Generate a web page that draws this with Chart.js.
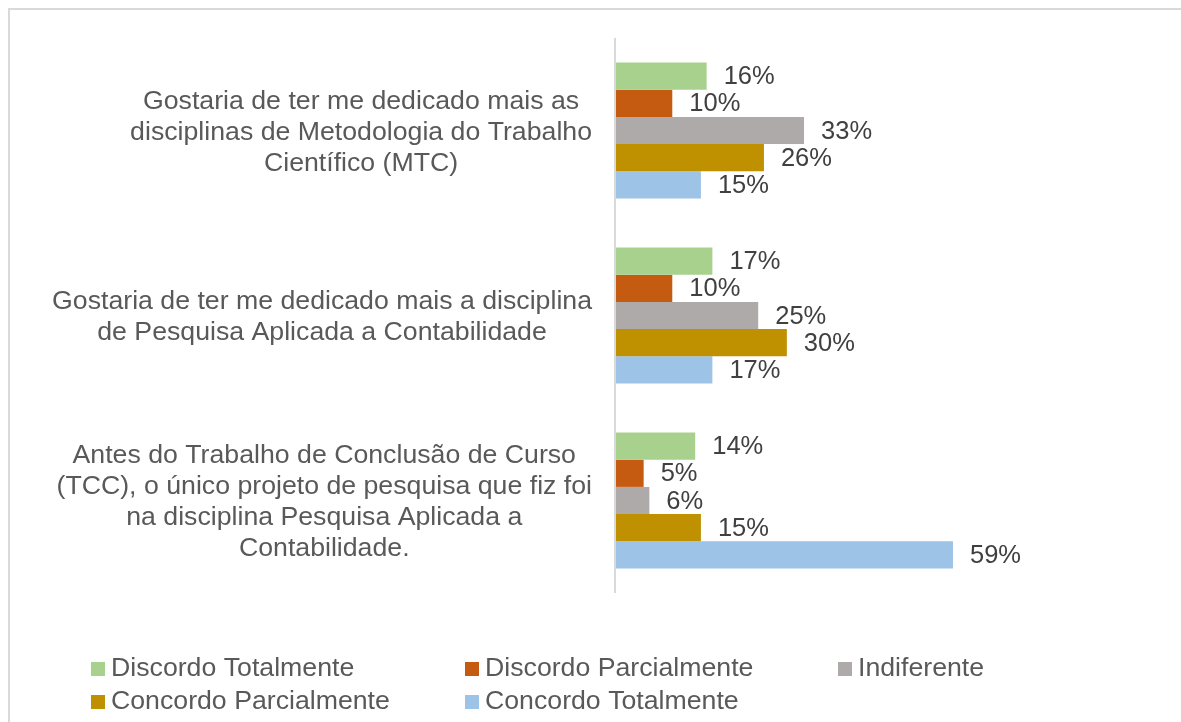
<!DOCTYPE html>
<html>
<head>
<meta charset="utf-8">
<script src="https://cdn.jsdelivr.net/npm/chart.js@4.4.1/dist/chart.umd.min.js"></script>
<style>
  body { margin: 0; background: #ffffff; }
  #wrap { width: 1181px; height: 722px; }
</style>
</head>
<body>
<div id="wrap"><canvas id="theViz" width="1181" height="722"></canvas></div>
<script>
// categories, top to bottom, already split into lines as in the picture
const categories = [
    ['Gostaria de ter me dedicado mais as', 'disciplinas de Metodologia do Trabalho', 'Científico (MTC)'],
    ['Gostaria de ter me dedicado mais a disciplina', 'de Pesquisa Aplicada a Contabilidade'],
    ['Antes do Trabalho de Conclusão de Curso', '(TCC), o único projeto de pesquisa que fiz foi', 'na disciplina Pesquisa Aplicada a', 'Contabilidade.']
];

const seriesNames = ['Discordo Totalmente', 'Discordo Parcialmente', 'Indiferente', 'Concordo Parcialmente', 'Concordo Totalmente'];
const discordoTotalmente = [16, 17, 14];
const discordoParcialmente = [10, 10, 5];
const indiferente = [33, 25, 6];
const concordoParcialmente = [26, 30, 15];
const concordoTotalmente = [15, 17, 59];
const seriesColors = ['#A9D18E', '#C55A11', '#AEAAAA', '#BF9000', '#9DC3E6'];

const FONT = '"Liberation Sans", Arial, sans-serif';

const extras = {
    id: 'extras',
    beforeDatasetsDraw(chart) {
        const ctx = chart.ctx;
        const area = chart.chartArea;
        ctx.save();
        // outer frame
        ctx.strokeStyle = '#D9D9D9';
        ctx.lineWidth = 2;
        ctx.strokeRect(9, 9, 1400, 1000);
        // category labels: block right aligned, lines centred on widest line
        const yScale = chart.scales.y;
        ctx.font = '26.7px ' + FONT;
        ctx.fillStyle = '#595959';
        ctx.textAlign = 'center';
        ctx.textBaseline = 'middle';
        const lineH = 31;
        categories.forEach((lines, i) => {
            const widest = Math.max(...lines.map(l => ctx.measureText(l).width));
            const cx = area.left - 23 - widest / 2;
            const cy = yScale.getPixelForValue(i) + 2;
            const y0 = cy - (lines.length - 1) * lineH / 2;
            lines.forEach((l, k) => ctx.fillText(l, cx, y0 + k * lineH));
        });
        ctx.restore();
    },
    afterDatasetsDraw(chart) {
        const ctx = chart.ctx;
        const area = chart.chartArea;
        ctx.save();
        // vertical category axis
        ctx.strokeStyle = '#D9D9D9';
        ctx.lineWidth = 2;
        ctx.beginPath();
        ctx.moveTo(area.left, area.top);
        ctx.lineTo(area.left, area.bottom);
        ctx.stroke();
        // data labels
        ctx.font = '25.5px ' + FONT;
        ctx.fillStyle = '#404040';
        ctx.textAlign = 'left';
        ctx.textBaseline = 'middle';
        chart.data.datasets.forEach((ds, i) => {
            chart.getDatasetMeta(i).data.forEach((bar, j) => {
                ctx.fillText(ds.data[j] + '%', bar.x + 17, bar.y + 1);
            });
        });
        // legend, fixed columns like the original
        ctx.font = '26.7px ' + FONT;
        const colX = [91, 465, 838];
        const rowY = [669, 702];
        chart.data.datasets.forEach((ds, i) => {
            const x = colX[i % 3];
            const y = rowY[Math.floor(i / 3)];
            ctx.fillStyle = ds.backgroundColor;
            ctx.fillRect(x, y - 7, 14, 14);
            ctx.fillStyle = '#595959';
            ctx.fillText(ds.label, x + 20, y);
        });
        ctx.restore();
    }
};

const allSeries = [discordoTotalmente, discordoParcialmente, indiferente, concordoParcialmente, concordoTotalmente];

new Chart(document.getElementById('theViz').getContext('2d'), {
    type: 'bar',
    data: {
        labels: categories,
        datasets: allSeries.map((vals, i) => ({
            label: seriesNames[i],
            data: vals,
            backgroundColor: seriesColors[i],
            borderWidth: 0,
            categoryPercentage: 0.735,
            barPercentage: 1
        }))
    },
    options: {
        indexAxis: 'y',
        responsive: false,
        animation: false,
        layout: {
            padding: { left: 615, right: 165, top: 38, bottom: 129 }
        },
        scales: {
            x: { display: false, min: 0, max: 70 },
            y: { display: false }
        },
        plugins: {
            legend: { display: false },
            tooltip: { enabled: false }
        }
    },
    plugins: [extras]
});
</script>
</body>
</html>
